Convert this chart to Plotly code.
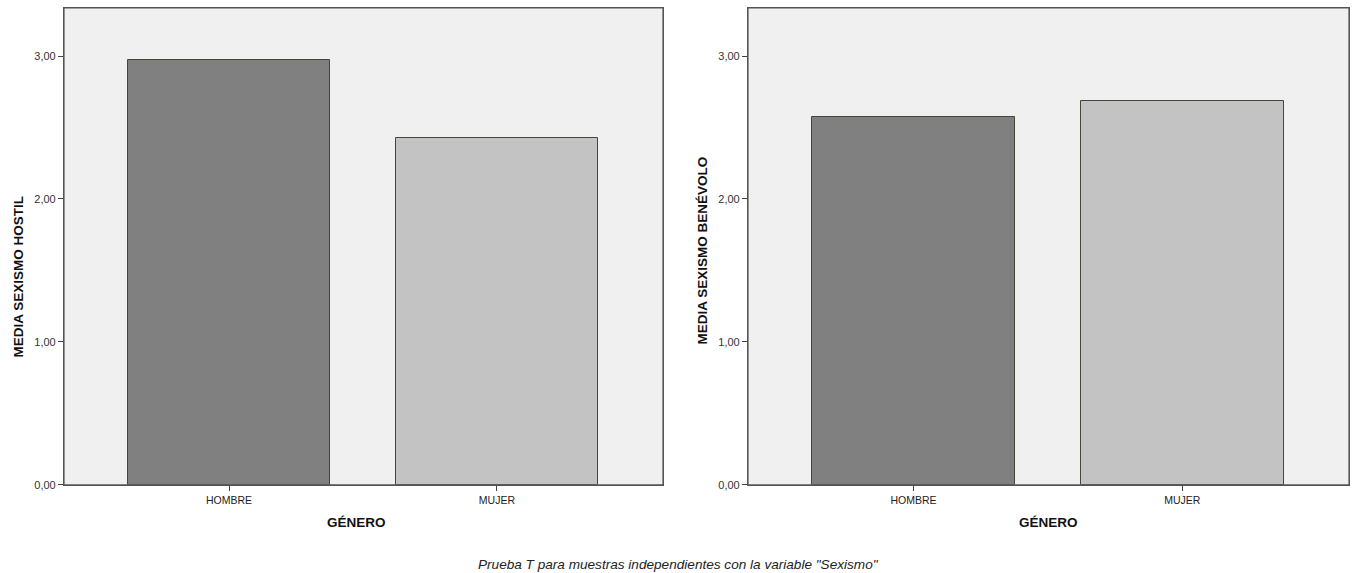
import plotly.graph_objects as go

W, H = 1356, 573
SY = 580 / 573          # compensation for observed vertical scaling of the capture
HF = round(H * SY)

categories = ["HOMBRE", "MUJER"]
hostil_means = [2.972, 2.425]
benevolo_means = [2.572, 2.685]
bar_colors = ["#808080", "#c3c3c3"]
y_ticks = [0, 1, 2, 3]

left_title = "MEDIA SEXISMO HOSTIL"
right_title = "MEDIA SEXISMO BENÉVOLO"
x_title = "GÉNERO"
caption = 'Prueba T para muestras independientes con la variable "Sexismo"'

FONT = "Liberation Sans, Arial, sans-serif"
xpos = list(range(len(categories)))

fig = go.Figure()
for i, vals in enumerate([hostil_means, benevolo_means]):
    sfx = "" if i == 0 else "2"
    fig.add_trace(go.Bar(
        x=xpos, y=vals, width=0.755,
        marker=dict(color=bar_colors, line=dict(color="#45453a", width=1)),
        xaxis="x" + sfx, yaxis="y" + sfx, showlegend=False,
        hoverinfo="skip",
    ))

def px_x(p):
    return p / W

def px_y(p):
    return 1 - p / H

ydom = [px_y(484), px_y(8)]
common_x = dict(
    range=[-0.616, 1.62], tickvals=xpos, ticktext=categories,
    showline=True, mirror=True, linecolor="#555555", linewidth=1.2,
    ticks="outside", ticklen=5, tickcolor="#444444", showgrid=False, zeroline=False,
    tickfont=dict(family=FONT, size=10.5, color="#222222"),
)
common_y = dict(
    range=[0, 3.336], tickvals=y_ticks, tickformat=".2f",
    showline=True, mirror=True, linecolor="#555555", linewidth=1.2,
    ticks="outside", ticklen=5, tickcolor="#444444", showgrid=False, zeroline=False,
    tickfont=dict(family=FONT, size=11, color="#333333"), domain=ydom,
)

fig.update_layout(
    width=W, height=HF, autosize=False,
    margin=dict(l=0, r=0, t=0, b=0),
    paper_bgcolor="white", plot_bgcolor="#f0f0f0",
    separators=",.",
    bargap=0,
    xaxis=dict(domain=[px_x(64), px_x(663)], anchor="y", **common_x),
    yaxis=dict(anchor="x", **common_y),
    xaxis2=dict(domain=[px_x(748), px_x(1349)], anchor="y2", **common_x),
    yaxis2=dict(anchor="x2", **common_y),
    shapes=[
        dict(type="rect", xref="x domain", yref="y domain", x0=0, x1=1, y0=0, y1=1,
             line=dict(color="#555555", width=1.2), layer="above"),
        dict(type="rect", xref="x2 domain", yref="y2 domain", x0=0, x1=1, y0=0, y1=1,
             line=dict(color="#555555", width=1.2), layer="above"),
    ],
)

title_font = dict(family=FONT, size=13.5, color="#111111")
ann = [
    dict(text="<b>%s</b>" % left_title, x=px_x(18), y=px_y(276), textangle=-90),
    dict(text="<b>%s</b>" % right_title, x=px_x(702), y=px_y(250), textangle=-90),
    dict(text="<b>%s</b>" % x_title, x=px_x(356), y=px_y(522)),
    dict(text="<b>%s</b>" % x_title, x=px_x(1048), y=px_y(522)),
    dict(text="<i>%s</i>" % caption, x=px_x(678), y=px_y(564),
         font=dict(family=FONT, size=13.6, color="#222222")),
]
for a in ann:
    a.setdefault("font", title_font)
    fig.add_annotation(xref="paper", yref="paper", showarrow=False,
                       xanchor="center", yanchor="middle", **a)

fig.write_html(
    "out.html",
    config={"displayModeBar": False},
    post_script="document.body.style.margin='0';document.body.style.overflow='hidden';",
)
